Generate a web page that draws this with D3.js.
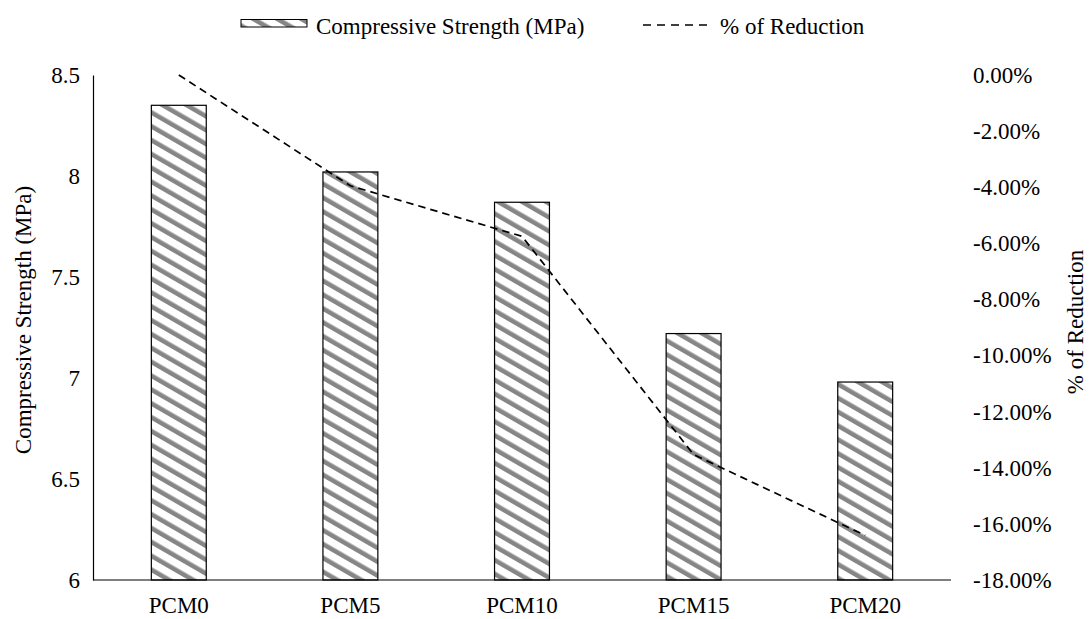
<!DOCTYPE html>
<html><head><meta charset="utf-8">
<script src="https://cdn.jsdelivr.net/npm/d3@7"></script>
<style>body{margin:0;background:#fff;} text{font-family:"Liberation Serif","Times New Roman",serif;fill:#000;}</style>
</head><body>
<svg id="c" width="1089" height="619"></svg>
<script>
const categories = ["PCM0","PCM5","PCM10","PCM15","PCM20"];
const strength = [8.35, 8.02, 7.87, 7.22, 6.98];
const reduction = [0, -3.95, -5.75, -13.53, -16.41];
const leftTicks = [6, 6.5, 7, 7.5, 8, 8.5];
const rightTicks = [0, -2, -4, -6, -8, -10, -12, -14, -16, -18];

const FS = "23px", FF = "Liberation Serif";
const svg = d3.select("#c");
const m = {l: 93, r: 951, t: 75, b: 580};
const x = d3.scaleBand().domain(categories).range([m.l, m.r]).paddingInner(0.68).paddingOuter(0.34);
const yL = d3.scaleLinear().domain([6, 8.5]).range([m.b, m.t]);
const yR = d3.scaleLinear().domain([-18, 0]).range([m.b, m.t]);

const defs = svg.append("defs");
const pat = defs.append("pattern").attr("id","stripe").attr("patternUnits","userSpaceOnUse")
  .attr("width", 12).attr("height", 12).attr("patternTransform","rotate(-60)");
pat.append("rect").attr("width",12).attr("height",12).attr("fill","#fff");
pat.append("rect").attr("x",0).attr("y",0).attr("width",4.6).attr("height",12).attr("fill","#868686");

// bars
svg.append("g").selectAll("rect").data(categories).join("rect")
  .attr("x", d => x(d)).attr("width", x.bandwidth())
  .attr("y", (d,i) => yL(strength[i])).attr("height", (d,i) => yL(6) - yL(strength[i]))
  .attr("fill","url(#stripe)").attr("stroke","#000").attr("stroke-width",1.2);

// axes
const axL = svg.append("g").attr("transform",`translate(${m.l},0)`)
  .call(d3.axisLeft(yL).tickValues(leftTicks).tickSize(0).tickPadding(13).tickFormat(d3.format("")));
axL.select(".domain").attr("stroke","#000").attr("stroke-width",1.2);
axL.selectAll("text").style("font-size",FS).style("font-family",FF);

const axB = svg.append("g").attr("transform",`translate(0,${m.b})`)
  .call(d3.axisBottom(x).tickSize(0).tickPadding(17));
axB.select(".domain").attr("stroke","#000").attr("stroke-width",1.2).attr("d",`M${m.l},0H${m.r}`);
axB.selectAll("text").style("font-size",FS).style("font-family",FF);

const fmtPct = d => (d === 0 ? "0" : d.toFixed(0)) + ".00%";
const axR = svg.append("g").attr("transform",`translate(${m.r},0)`)
  .call(d3.axisRight(yR).tickValues(rightTicks).tickSize(0).tickPadding(22).tickFormat(fmtPct));
axR.select(".domain").remove();
axR.selectAll("text").style("font-size",FS).style("font-family",FF);

// line
const line = d3.line().x((d,i) => x(categories[i]) + x.bandwidth()/2).y(d => yR(d));
svg.append("path").datum(reduction).attr("d", line).attr("fill","none")
  .attr("stroke","#000").attr("stroke-width",1.7).attr("stroke-dasharray","7.5,5");

// axis titles
svg.append("text").attr("transform","translate(31,320) rotate(-90)").attr("text-anchor","middle")
  .style("font-size",FS).text("Compressive Strength (MPa)");
svg.append("text").attr("transform","translate(1083,322) rotate(-90)").attr("text-anchor","middle")
  .style("font-size",FS).text("% of Reduction");

// legend
const lg = svg.append("g");
lg.append("rect").attr("x",241).attr("y",19.5).attr("width",66).attr("height",7.5)
  .attr("fill","url(#stripe)").attr("stroke","#000").attr("stroke-width",1);
lg.append("text").attr("x",316).attr("y",34).style("font-size",FS).text("Compressive Strength (MPa)");
lg.append("line").attr("x1",643).attr("x2",707).attr("y1",25).attr("y2",25)
  .attr("stroke","#000").attr("stroke-width",1.7).attr("stroke-dasharray","8,6");
lg.append("text").attr("x",720).attr("y",34).style("font-size",FS).text("% of Reduction");
</script>
</body></html>
